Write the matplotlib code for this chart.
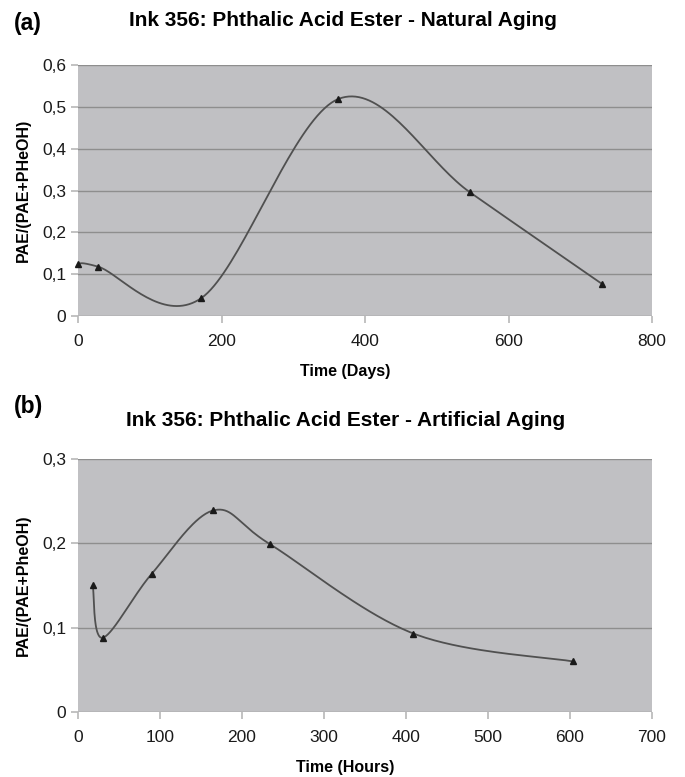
import numpy as np
import matplotlib
matplotlib.use("Agg")
import matplotlib.pyplot as plt
from matplotlib.ticker import FuncFormatter

# natural aging (days)
days = [0, 28, 172, 363, 546, 730]
ratio_nat = [0.125, 0.118, 0.043, 0.519, 0.296, 0.077]

# artificial aging (hours)
hours = [18, 30, 90, 165, 234, 409, 603]
ratio_art = [0.150, 0.088, 0.164, 0.239, 0.199, 0.093, 0.060]

FONT = ["Liberation Sans", "DejaVu Sans"]
PLOT_BG = "#c0c0c3"
GRID = "#8e8e8e"
LINE = "#505050"


def smooth(x, y, n=40):
    """Bezier-smoothed polyline through the points (spreadsheet-style 'smoothed line')."""
    p = np.column_stack([x, y]).astype(float)
    ext = np.vstack([p[0], p, p[-1]])
    out = []
    t = np.linspace(0, 1, n)[:, None]
    for i in range(len(p) - 1):
        p0, p3 = ext[i + 1], ext[i + 2]
        c1 = p0 + (ext[i + 2] - ext[i]) / 6.0
        c2 = p3 - (ext[i + 3] - ext[i + 1]) / 6.0
        seg = ((1 - t) ** 3) * p0 + 3 * ((1 - t) ** 2) * t * c1 + 3 * (1 - t) * t ** 2 * c2 + t ** 3 * p3
        out.append(seg if i == 0 else seg[1:])
    seg = np.vstack(out)
    return seg[:, 0], seg[:, 1]


def comma(v, _):
    return "0" if abs(v) < 1e-9 else f"{v:.1f}".replace(".", ",")


def panel(ax, x, y, xmax, xstep, ymax, ystep, xlabel, ylabel):
    ax.set_facecolor(PLOT_BG)
    for s in ax.spines.values():
        s.set_visible(False)
    ax.set_xlim(0, xmax)
    ax.set_ylim(0, ymax)
    ax.set_xticks(np.arange(0, xmax + 1, xstep))
    ax.set_yticks(np.arange(0, ymax + 1e-9, ystep))
    ax.yaxis.set_major_formatter(FuncFormatter(comma))
    ax.grid(axis="y", color=GRID, lw=1.0)
    ax.set_axisbelow(True)
    ax.tick_params(axis="both", colors="#b8b8b8", labelcolor="#1a1a1a", labelsize=12.5,
                   length=5, width=1.2)
    ax.tick_params(axis="x", pad=8)
    for lab in ax.get_xticklabels() + ax.get_yticklabels():
        lab.set_family(FONT)
    xs, ys = smooth(x, y)
    ax.plot(xs, ys, "-", color=LINE, lw=1.3, zorder=3)
    ax.plot(x, y, "^", color="#1a1a1a", ms=4.5, zorder=4, clip_on=False)
    ax.set_xlabel(xlabel, fontsize=11.5, fontweight="bold", family=FONT)
    ax.xaxis.set_label_coords(0.465, -0.19)
    ax.set_ylabel(ylabel, fontsize=11.5, fontweight="bold", family=FONT, labelpad=8)


fig = plt.figure(figsize=(6.85, 7.77), dpi=100)
ax1 = fig.add_axes([0.1139, 0.5933, 0.838, 0.3230])
ax2 = fig.add_axes([0.1139, 0.0837, 0.838, 0.3256])

panel(ax1, days, ratio_nat, 800, 200, 0.6, 0.1, "Time (Days)", "PAE/(PAE+PHeOH)")
panel(ax2, hours, ratio_art, 700, 100, 0.3, 0.1, "Time (Hours)", "PAE/(PAE+PheOH)")

fig.text(0.020, 0.970, "(a)", fontsize=16.5, fontweight="bold", family=FONT, va="center")
fig.text(0.500, 0.973, "Ink 356: Phthalic Acid Ester - Natural Aging", fontsize=15,
         fontweight="bold", family=FONT, ha="center", va="center")
fig.text(0.020, 0.477, "(b)", fontsize=16.5, fontweight="bold", family=FONT, va="center")
fig.text(0.505, 0.459, "Ink 356: Phthalic Acid Ester - Artificial Aging", fontsize=15,
         fontweight="bold", family=FONT, ha="center", va="center")

fig.savefig("out.png", dpi=100, facecolor="white")
plt.close(fig)
